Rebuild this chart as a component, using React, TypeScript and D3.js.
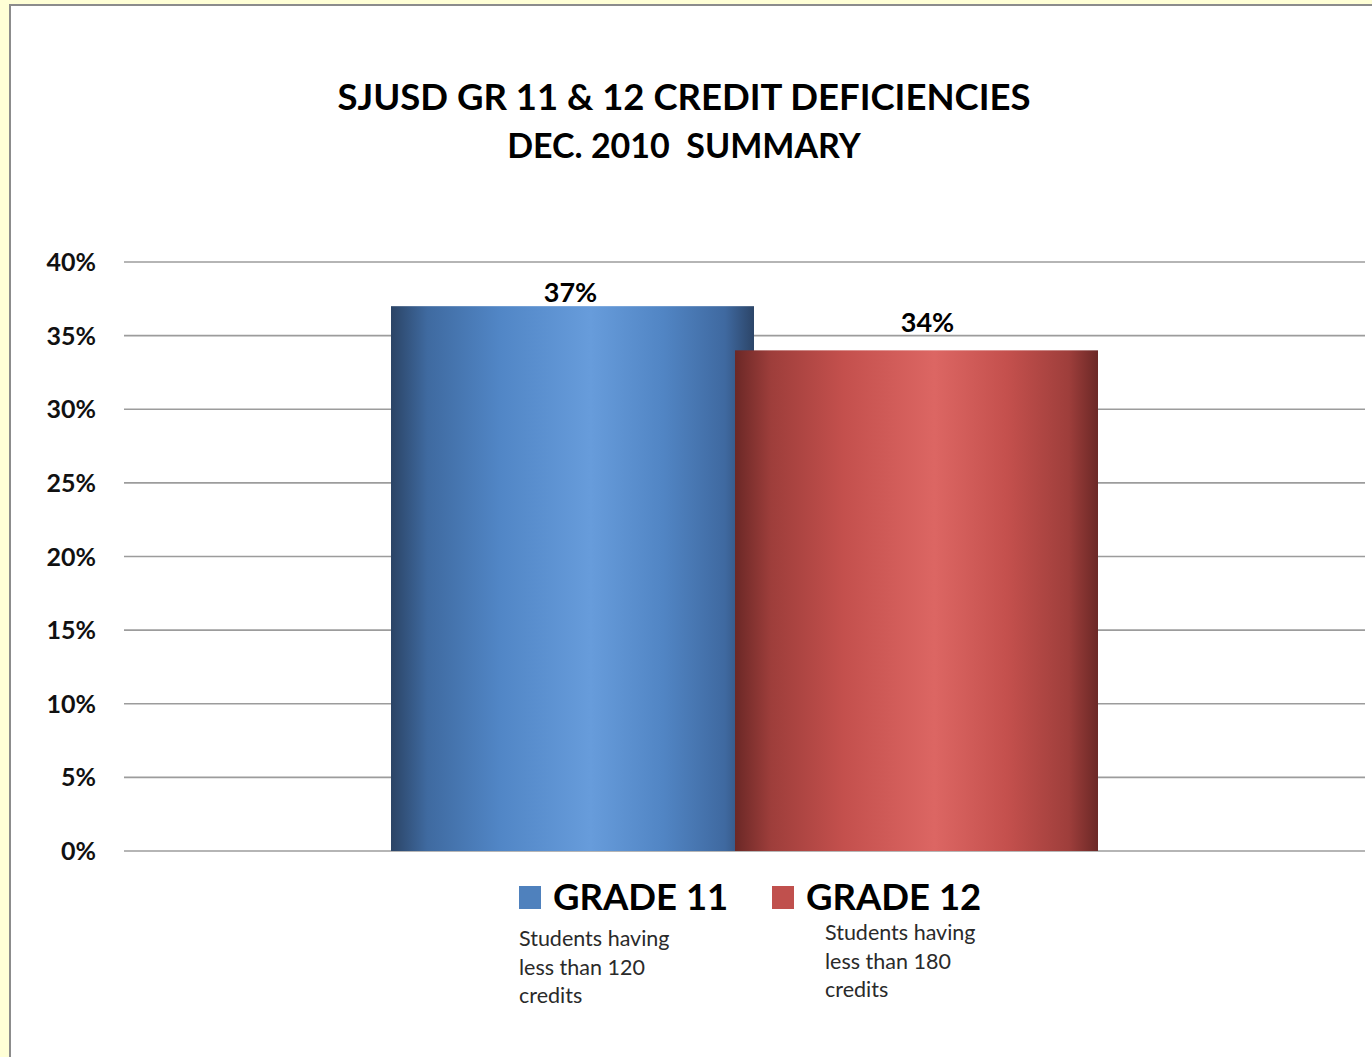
import React from "react";
import * as d3 from "d3";

const categories = ["GRADE 11", "GRADE 12"];
const values = [37, 34];
const valueLabels = ["37%", "34%"];
const yTicks = [0, 5, 10, 15, 20, 25, 30, 35, 40];
const notes = [
  ["Students having", "less than 120", "credits"],
  ["Students having", "less than 180", "credits"],
];
const titleLines = ["SJUSD GR 11 & 12 CREDIT DEFICIENCIES", "DEC. 2010  SUMMARY"];

const W = 1372;
const H = 1057;
const FONT = "Lato, 'Open Sans', 'DejaVu Sans', sans-serif";

export default function App() {
  const y = d3.scaleLinear().domain([0, 40]).range([851, 262]);
  const x = d3.scaleLinear().domain([0, 1]).range([391, 735]);
  const barW = 363;
  const gridX0 = 124;
  const gridX1 = 1365;

  const gradients = [
    { id: "gBlue", stops: ["#2b4466", "#3f6aa0", "#5186c6", "#679cdb", "#5185c4", "#3f69a0", "#2c4568"] },
    { id: "gRed", stops: ["#6b2826", "#9e3e3b", "#c4504d", "#dc6663", "#c4504d", "#9e3e3b", "#6b2826"] },
  ];
  const offsets = [0, 0.1, 0.3, 0.55, 0.75, 0.92, 1];

  const legendSquares = [
    { x: 519, color: "#4f81bd", tx: 553, nx: 519, ny: 946 },
    { x: 772, color: "#c0504d", tx: 806, nx: 825, ny: 940 },
  ];
  const labelY = [302, 332];
  const labelDx = [-2, 11];

  return (
    <svg
      width={W}
      height={H}
      style={{ position: "absolute", left: 0, top: 0, display: "block" }}
      fontFamily={FONT}
    >
      <defs>
        {gradients.map((g) => (
          <linearGradient key={g.id} id={g.id} x1="0" x2="1" y1="0" y2="0">
            {g.stops.map((c, i) => (
              <stop key={i} offset={offsets[i]} stopColor={c} />
            ))}
          </linearGradient>
        ))}
      </defs>
      <rect x={0} y={0} width={W} height={H} fill="#ffffd6" />
      <rect x={9} y={4} width={W} height={H} fill="#8c8c8c" />
      <rect x={11} y={6} width={W} height={H} fill="#ffffff" />

      {titleLines.map((t, i) => (
        <text
          key={t}
          x={684}
          y={110 + i * 48}
          textAnchor="middle"
          fontSize={i === 0 ? 36.5 : 34}
          fontWeight="bold"
          fill="#000"
          style={{ whiteSpace: "pre" }}
        >
          {t}
        </text>
      ))}

      {yTicks.map((t) => (
        <g key={t}>
          <line x1={gridX0} x2={gridX1} y1={y(t)} y2={y(t)} stroke="#9c9c9c" strokeWidth={1.6} />
          <text x={96} y={y(t) + 9} textAnchor="end" fontSize={25} fontWeight="bold" fill="#111">
            {t}%
          </text>
        </g>
      ))}

      {values.map((v, i) => (
        <g key={categories[i]}>
          <rect
            x={x(i)}
            y={y(v)}
            width={barW}
            height={y(0) - y(v)}
            fill={`url(#${gradients[i].id})`}
          />
          <text
            x={x(i) + barW / 2 + labelDx[i]}
            y={labelY[i]}
            textAnchor="middle"
            fontSize={27}
            fontWeight="bold"
            fill="#000"
          >
            {valueLabels[i]}
          </text>
        </g>
      ))}

      {categories.map((c, i) => {
        const L = legendSquares[i];
        return (
          <g key={c}>
            <rect x={L.x} y={886} width={22} height={23} fill={L.color} />
            <text x={L.tx} y={910} fontSize={36.5} fontWeight="bold" fill="#000">
              {c}
            </text>
            {notes[i].map((n, j) => (
              <text key={j} x={L.nx} y={L.ny + j * 28.5} fontSize={21.5} fill="#2a2a2a">
                {n}
              </text>
            ))}
          </g>
        );
      })}
    </svg>
  );
}
